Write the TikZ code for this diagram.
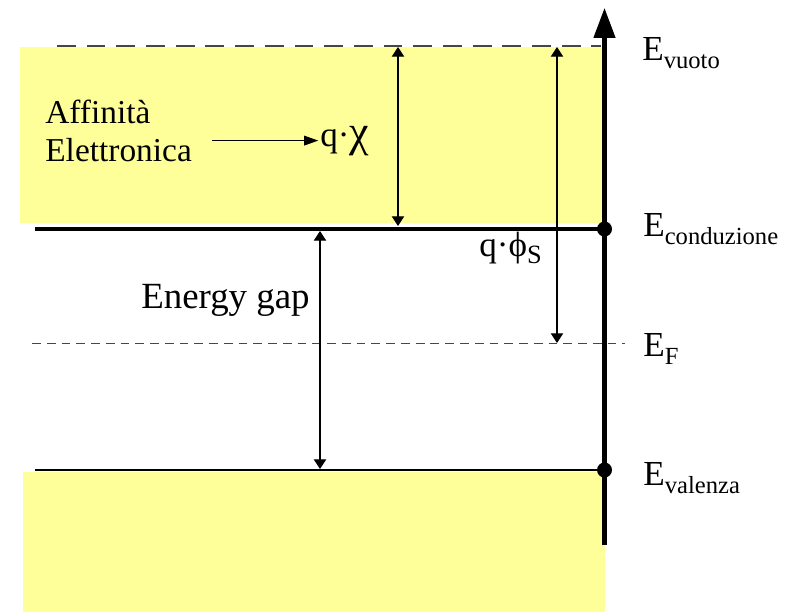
\documentclass[tikz,border=0pt]{standalone}
\usepackage{fontspec}
\setmainfont{Liberation Serif}
\usetikzlibrary{arrows.meta,positioning,calc}
\definecolor{bandfill}{RGB}{255,255,153}
\definecolor{dashgray}{RGB}{70,70,70}
\newcommand{\lvl}[1]{E\raisebox{-5pt}{\fontsize{14}{14}\selectfont #1}}

\begin{document}
\begin{tikzpicture}[x=0.02cm, y=-0.02cm,
  band/.style={fill=bandfill, draw=none},
  txt/.style={inner sep=0pt, font=\fontsize{20}{22}\selectfont},
  small/.style={inner sep=0pt, font=\fontsize{19}{21}\selectfont},
  dim/.style={<->, line width=0.6pt, >={Triangle[length=5.5pt, width=7pt]}},
  pointer/.style={->, line width=0.7pt, >={Triangle[length=8pt, width=5.5pt]}},
  axis/.style={->, line width=2.3pt, >={Triangle[length=17pt, width=12pt]}}
]
\useasboundingbox (0,0) rectangle (794,612);

% bands
\fill[band] (20,47) rectangle (603,223);
\fill[band] (23,472) rectangle (605,612);

% levels
\coordinate (vacL) at (57,46);   \coordinate (vacR) at (601,46);
\coordinate (cbL)  at (35,229);  \coordinate (cbR)  at (604.5,229);
\coordinate (efL)  at (32,343.5); \coordinate (efR) at (625,343.5);
\coordinate (vbL)  at (35,470);  \coordinate (vbR)  at (604.5,470);
\draw[dashgray, line width=0.8pt, dash pattern=on 10.7pt off 6.2pt] (vacL) -- (vacR);
\draw[dashgray, line width=0.6pt, dash pattern=on 5pt off 3.4pt] (efL) -- (efR);
\draw[line width=2.8pt] (cbL) -- (cbR);
\draw[line width=1.6pt] (vbL) -- (vbR);

% energy axis
\coordinate (axBot) at (604.5,545);
\coordinate (axTop) at (604.5,8);
\draw[axis] (axBot) -- (axTop);
\fill (cbR) circle[radius=0.15cm];
\fill (vbR) circle[radius=0.15cm];

% level labels
\node[txt, anchor=base west] (evac)  at (642,60)  {\lvl{vuoto}};
\node[txt, anchor=base west] (econd) at (643,236) {\lvl{conduzione}};
\node[txt, anchor=base west] (efermi) at (643,356) {\lvl{F}};
\node[txt, anchor=base west] (evale) at (643,485) {\lvl{valenza}};

% affinity
\coordinate (chiTop) at (398,47);
\coordinate (chiBot) at (398,226);
\draw[dim] (chiTop) -- (chiBot);
\node[small, anchor=base west] (aff1) at (45,123) {Affinità};
\node[small, anchor=base west] (aff2) at (45,161) {Elettronica};
\node[txt, anchor=base west] (qchi) at (320,146) {q·{\fontsize{25}{25}\selectfont χ}};
\draw[pointer] ([xshift=0.4cm]aff2.east |- qchi.west) -- ([xshift=-1pt]qchi.west);

% work function
\coordinate (phiTop) at (557,47);
\coordinate (phiBot) at (557,343);
\draw[dim] (phiTop) -- (phiBot);
\node[txt, anchor=base west] (qphi) at (479,256) {q·ϕ\raisebox{-4pt}{\fontsize{15}{15}\selectfont S}};

% gap
\coordinate (gapTop) at (320,231);
\coordinate (gapBot) at (320,469);
\draw[dim] (gapTop) -- (gapBot);
\node[txt, font=\fontsize{21}{23}\selectfont, anchor=base east] (gap) at (310,308) {Energy gap};
\end{tikzpicture}
\end{document}
